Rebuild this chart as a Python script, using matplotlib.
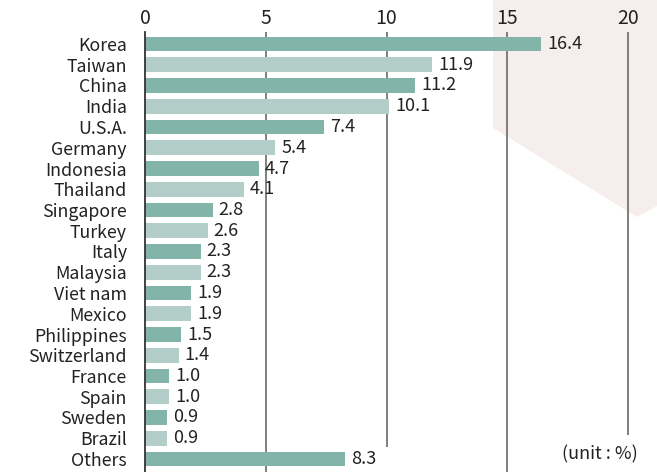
import numpy as np
import matplotlib
matplotlib.use("Agg")
import matplotlib.pyplot as plt
from matplotlib.patches import Polygon

countries = ["Korea", "Taiwan", "China", "India", "U.S.A.", "Germany", "Indonesia",
             "Thailand", "Singapore", "Turkey", "Italy", "Malaysia", "Viet nam",
             "Mexico", "Philippines", "Switzerland", "France", "Spain", "Sweden",
             "Brazil", "Others"]
shares = [16.4, 11.9, 11.2, 10.1, 7.4, 5.4, 4.7, 4.1, 2.8, 2.6, 2.3, 2.3, 1.9,
          1.9, 1.5, 1.4, 1.0, 1.0, 0.9, 0.9, 8.3]
ticks = [0, 5, 10, 15, 20]

plt.rcParams["font.family"] = ["Noto Sans CJK JP", "DejaVu Sans"]

dark = "#82b4a9"
light = "#b3cec8"
txt = "#222222"

fig = plt.figure(figsize=(6.57, 4.72), dpi=100)
W, H = 657, 472
px = 24.15  # pixels per unit
left_px, top_px = 145, 32
ax = fig.add_axes([left_px / W, 0, 1 - left_px / W, 1 - top_px / H])

row0, step = 44, 20.75
y = np.arange(len(countries))
colors = [dark if i % 2 == 0 else light for i in range(len(countries))]

ax.set_xlim(0, (W - left_px) / px)
ax.set_ylim((H - row0) / step, (top_px - row0) / step)

# pink background shape
def to_data(p):
    return ((p[0] - left_px) / px, (p[1] - row0) / step)
pts = [to_data(p) for p in [(493, 0), (493, 128), (637, 217), (657, 206), (657, 0)]]
ax.add_patch(Polygon(pts, closed=True, facecolor="#f6eeed", edgecolor="none",
                     zorder=0, clip_on=False))

# grid lines
grid_end = {5: 30, 10: 19.4, 15: 30, 20: 18.85}
for t in ticks[1:]:
    ax.vlines(t, ax.get_ylim()[1], grid_end[t], color="#6a6a6a", lw=1.2, zorder=1)

ax.barh(y, shares, height=0.72, color=colors, zorder=2)
for i, v in enumerate(shares):
    ax.text(v + 0.25, i, f"{v:.1f}", va="center", ha="left", fontsize=13,
            color=txt, zorder=3)

ax.set_yticks(y)
ax.set_yticklabels(countries, fontsize=12.8, color=txt)
ax.set_xticks(ticks)
ax.set_xticklabels([str(t) for t in ticks], fontsize=14, color=txt)
ax.xaxis.tick_top()
ax.tick_params(axis="both", length=0)
ax.tick_params(axis="y", pad=13)
ax.tick_params(axis="x", pad=2)

for s in ["top", "right", "bottom"]:
    ax.spines[s].set_visible(False)
ax.spines["left"].set_color("#333333")
ax.spines["left"].set_linewidth(1.3)
ax.spines["left"].set_zorder(4)
ax.patch.set_alpha(0)

ax.text(20.4, 19.8, "(unit : %)", ha="right", va="center", fontsize=13, color=txt)

fig.savefig("out.png", dpi=100)
